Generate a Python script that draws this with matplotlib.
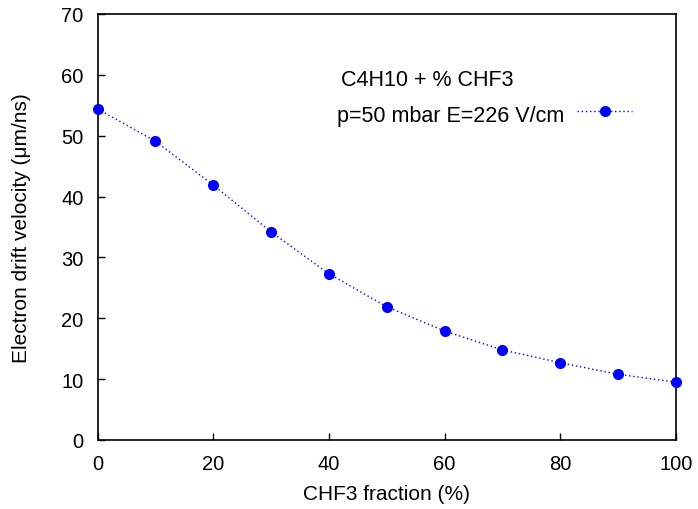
import matplotlib
matplotlib.use("Agg")
import matplotlib.pyplot as plt
from matplotlib.lines import Line2D

plt.rcParams['font.family'] = ['Liberation Sans', 'DejaVu Sans']

fraction = [0, 10, 20, 30, 40, 50, 60, 70, 80, 90, 100]
velocity = [54.4, 49.1, 41.9, 34.2, 27.3, 21.9, 17.9, 14.8, 12.7, 10.8, 9.5]
xticks = [0, 20, 40, 60, 80, 100]
yticks = [0, 10, 20, 30, 40, 50, 60, 70]

fig = plt.figure(figsize=(6.98, 5.10), dpi=100)
ax = fig.add_axes([97.5/698, 69/510, (676-97.5)/698, (441-15)/510])
ax.plot(fraction, velocity, color='#0000ff', linestyle=(0, (1, 2)), linewidth=1,
        marker='o', markersize=7, clip_on=False, zorder=3)
ax.set_xlim(0, 100)
ax.set_ylim(0, 70)
ax.set_xticks(xticks)
ax.set_yticks(yticks)
ax.tick_params(direction='in', length=5, width=1, labelsize=14.5, pad=10)
for s in ax.spines.values():
    s.set_linewidth(1.2)
ax.set_xlabel('CHF3 fraction (%)', fontsize=15, labelpad=8)
ax.set_ylabel('Electron drift velocity (\u03bcm/ns)', fontsize=15, labelpad=22)

fig.text(341/698, 1 - 86/510, 'C4H10 + % CHF3', fontsize=15.5, va='baseline', ha='left')
fig.text(337/698, 1 - 114/510, 'p=50 mbar E=226 V/cm', fontsize=15.5, va='center_baseline', ha='left')
h = Line2D([], [], color='#0000ff', linestyle=(0, (1, 2)), linewidth=1, marker='o', markersize=7)
leg = fig.legend([h], [''], loc='center left', bbox_to_anchor=(577/698, 1 - 114/510),
                 frameon=False, fontsize=15, handlelength=2.65, handletextpad=0,
                 borderpad=0, borderaxespad=0)
fig.savefig('out.png', dpi=100)
